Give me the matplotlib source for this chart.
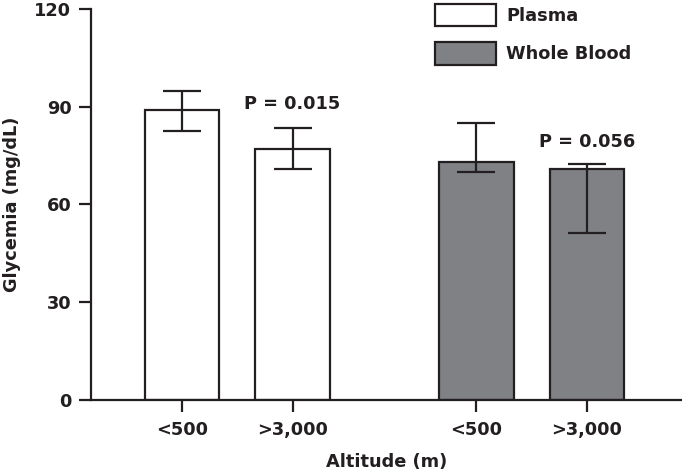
import matplotlib
matplotlib.use('Agg')

import numpy as np
import matplotlib.pyplot as plt
from matplotlib.patches import Patch

# Data #
groups = ['Plasma', 'Whole Blood']
altitudes = ['<500', '>3,000']
plasma_means = [88.9, 76.9]
plasma_err_low = [6.3, 6.1]
plasma_err_high = [6.0, 6.5]
blood_means = [73.1, 71.0]
blood_err_low = [3.2, 19.9]
blood_err_high = [12.0, 1.5]
p_values = ['P = 0.015', 'P = 0.056']

plt.rcParams['font.family'] = 'DejaVu Sans'
plt.rcParams['font.weight'] = 'bold'

edge = '#231f20'
grey = '#808184'
fs = 12.8

figure = plt.figure(figsize=(6.82, 4.74), dpi=100)
axis = figure.add_axes([0.1334, 0.1561, 0.8666, 0.825])

positions_plasma = np.array([0.0, 1.0])
positions_blood = positions_plasma + 2.665
width = 0.674

axis.bar(positions_plasma, plasma_means, width=width, color='white', edgecolor=edge, linewidth=1.6, zorder=2)
axis.bar(positions_blood, blood_means, width=width, color=grey, edgecolor=edge, linewidth=1.6, zorder=2)
axis.errorbar(positions_plasma, plasma_means, yerr=[plasma_err_low, plasma_err_high], fmt='none', ecolor=edge,
              elinewidth=1.6, capsize=14, capthick=1.6, zorder=3)
axis.errorbar(positions_blood, blood_means, yerr=[blood_err_low, blood_err_high], fmt='none', ecolor=edge,
              elinewidth=1.6, capsize=14, capthick=1.6, zorder=3)

# P-value annotations #
axis.text(1.0, 90.7, p_values[0], ha='center', va='center', fontsize=fs, fontweight='bold', color=edge)
axis.text(positions_blood[1], 79.3, p_values[1], ha='center', va='center', fontsize=fs, fontweight='bold', color=edge)

axis.set_xlim(-0.824, 4.525)
axis.set_ylim(0, 120)
axis.set_yticks([0, 30, 60, 90, 120])
axis.set_xticks(np.concatenate([positions_plasma, positions_blood]))
axis.set_xticklabels(altitudes + altitudes)
axis.spines['top'].set_visible(False)
axis.spines['right'].set_visible(False)
axis.spines['left'].set_linewidth(1.6)
axis.spines['bottom'].set_linewidth(1.6)
axis.spines['left'].set_color(edge)
axis.spines['bottom'].set_color(edge)
axis.tick_params(direction='out', length=8.6, width=1.6, color=edge, labelsize=fs, labelcolor=edge)
axis.tick_params(axis='y', pad=5.5)
axis.tick_params(axis='x', pad=6.5)
axis.set_xlabel('Altitude (m)', fontsize=fs, fontweight='bold', color=edge, labelpad=10)
axis.set_ylabel('Glycemia (mg/dL)', fontsize=fs, fontweight='bold', color=edge, labelpad=10)

handles = [Patch(facecolor='white', edgecolor=edge, linewidth=1.6, label=groups[0]),
           Patch(facecolor=grey, edgecolor=edge, linewidth=1.6, label=groups[1])]
legend = axis.legend(handles=handles, loc='upper left', bbox_to_anchor=(0.567, 1.036), frameon=False,
                     borderpad=0, handlelength=3.45, handleheight=1.57, handletextpad=0.55, labelspacing=0.9,
                     prop={'size': fs, 'weight': 'bold'})
for text in legend.get_texts():
    text.set_color(edge)

plt.savefig('out.png', dpi=100)
